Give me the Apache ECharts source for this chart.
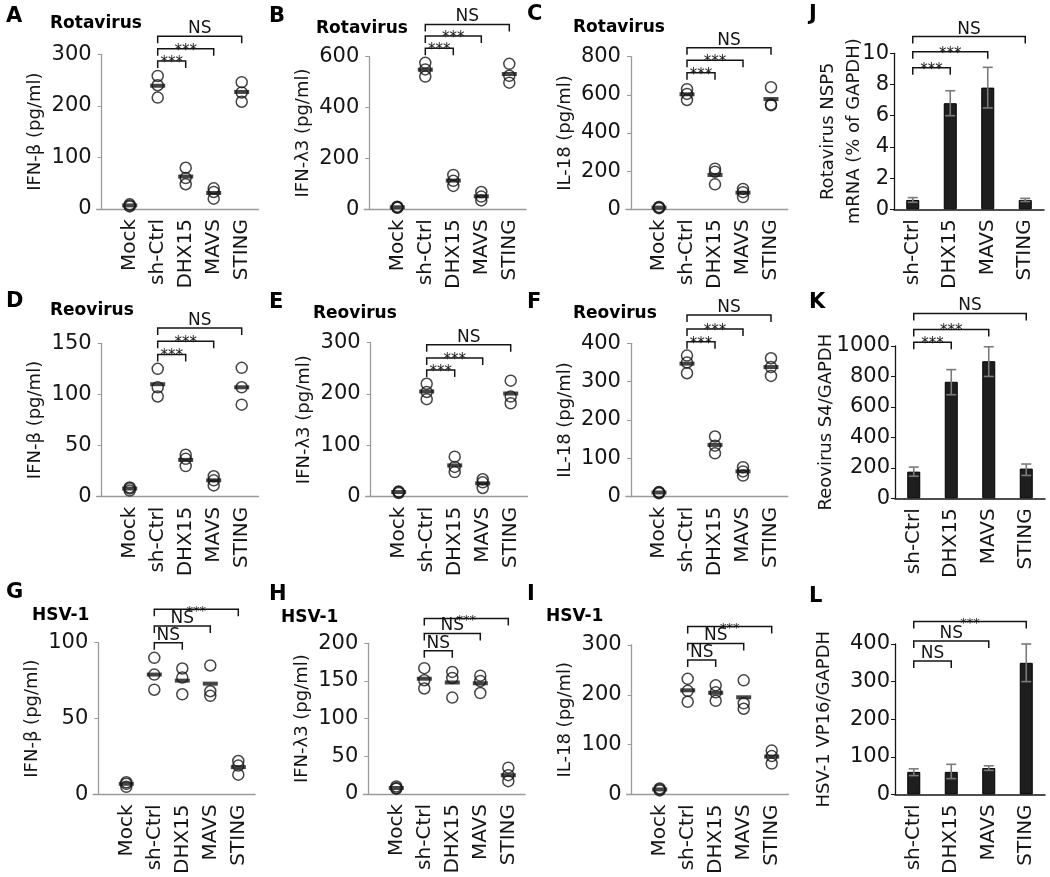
<!DOCTYPE html>
<html><head><meta charset="utf-8">
<script src="https://cdn.jsdelivr.net/npm/echarts@6/dist/echarts.min.js"></script>
<style>html,body{margin:0;padding:0;background:#fff}#chart{width:1050px;height:877px}</style>
</head><body><div id="chart"></div><script>
// ---------- categories ----------
const dotCategories = ['Mock', 'sh-Ctrl', 'DHX15', 'MAVS', 'STING'];
const barCategories = ['sh-Ctrl', 'DHX15', 'MAVS', 'STING'];
const sigLabelsVirusRNA = ['***', '***', 'NS'];
const sigLabelsHSV = ['NS', 'NS', '***'];

// ---------- A: Rotavirus IFN-β (pg/ml) ----------
const rotaIfnbPoints = [[5, 7, 9], [258, 240, 216], [80, 60, 48], [40, 33, 20], [246, 226, 208]];
const rotaIfnbMeans = [7, 239, 63, 31, 227];
const rotaIfnbSig = [287, 311, 335];
// ---------- B: Rotavirus IFN-λ3 ----------
const rotaIfnlPoints = [[6, 8, 10], [576, 550, 522], [135, 112, 92], [68, 50, 35], [572, 525, 498]];
const rotaIfnlMeans = [8, 549, 113, 51, 532];
const rotaIfnlSig = [633, 681, 727];
// ---------- C: Rotavirus IL-18 ----------
const rotaIl18Points = [[6, 9, 12], [630, 605, 573], [213, 197, 131], [107, 90, 64], [640, 550, 545]];
const rotaIl18Means = [9, 603, 180, 87, 578];
const rotaIl18Sig = [716, 782, 847];
// ---------- D: Reovirus IFN-β ----------
const reoIfnbPoints = [[6, 8, 9], [125, 107, 98], [41, 37, 30], [20, 16, 11], [126, 107, 90]];
const reoIfnbMeans = [8, 110, 36, 16, 107];
const reoIfnbSig = [139, 152, 165];
// ---------- E: Reovirus IFN-λ3 ----------
const reoIfnlPoints = [[7, 9, 10], [220, 204, 190], [78, 58, 48], [34, 28, 17], [226, 195, 182]];
const reoIfnlMeans = [9, 205, 61, 26, 201];
const reoIfnlSig = [247, 270, 296];
// ---------- F: Reovirus IL-18 ----------
const reoIl18Points = [[9, 11, 12], [368, 350, 322], [157, 133, 113], [77, 66, 55], [361, 338, 315]];
const reoIl18Means = [11, 347, 135, 66, 338];
const reoIl18Sig = [404, 437, 474];
// ---------- G: HSV-1 IFN-β ----------
const hsvIfnbPoints = [[8, 7, 5], [90, 79, 69], [83, 77, 66], [85, 68, 65], [22, 19, 13]];
const hsvIfnbMeans = [7, 79, 75, 73, 18];
const hsvIfnbSig = [100, 111, 122];
// ---------- H: HSV-1 IFN-λ3 ----------
const hsvIfnlPoints = [[7, 8, 10], [167, 151, 140], [162, 154, 128], [157, 150, 134], [35, 25, 17]];
const hsvIfnlMeans = [8, 153, 148, 147, 25];
const hsvIfnlSig = [190, 213, 233];
// ---------- I: HSV-1 IL-18 ----------
const hsvIl18Points = [[8, 10, 12], [232, 208, 186], [219, 205, 188], [229, 183, 172], [88, 77, 62]];
const hsvIl18Means = [10, 209, 204, 195, 76];
const hsvIl18Sig = [270, 303, 337];
// ---------- J: Rotavirus NSP5 mRNA ----------
const rotaNsp5Values = [0.6, 6.8, 7.8, 0.6];
const rotaNsp5Low = [0.45, 6.0, 6.5, 0.5];
const rotaNsp5High = [0.75, 7.6, 9.1, 0.7];
const rotaNsp5Sig = [9.08, 10.1, 11.07];
// ---------- K: Reovirus S4/GAPDH ----------
const reoS4Values = [175, 765, 900, 195];
const reoS4Low = [145, 680, 800, 150];
const reoS4High = [205, 845, 995, 225];
const reoS4Sig = [1024, 1109, 1214];
// ---------- L: HSV-1 VP16/GAPDH ----------
const hsvVp16Values = [60, 60, 70, 350];
const hsvVp16Low = [50, 42, 64, 300];
const hsvVp16High = [68, 80, 76, 400];
const hsvVp16Sig = [355, 408, 460];

// ---------- styling / layout ----------
const FONT = 'DejaVu Sans';
const INK = '#151515';
const AXIS_GRAY = '#9a9a9a';
const SPACING = 28, XMIN = -0.18, XMAX = 5.6;

const dotPanels = [
  {letter: 'A', title: 'Rotavirus', yName: 'IFN-β (pg/ml)', yMax: 300, yStep: 100, points: rotaIfnbPoints, means: rotaIfnbMeans, sig: rotaIfnbSig, sigLabels: sigLabelsVirusRNA, axisX: 101.7, top: 54.3, bottom: 209, letterPos: [6, 6], titlePos: [50, 15]},
  {letter: 'B', title: 'Rotavirus', yName: 'IFN-λ3 (pg/ml)', yMax: 600, yStep: 200, points: rotaIfnlPoints, means: rotaIfnlMeans, sig: rotaIfnlSig, sigLabels: sigLabelsVirusRNA, axisX: 369.3, top: 56.7, bottom: 209.3, letterPos: [269, 6], titlePos: [316, 20]},
  {letter: 'C', title: 'Rotavirus', yName: 'IL-18 (pg/ml)', yMax: 800, yStep: 200, points: rotaIl18Points, means: rotaIl18Means, sig: rotaIl18Sig, sigLabels: sigLabelsVirusRNA, axisX: 631, top: 56.7, bottom: 209.3, letterPos: [527, 4], titlePos: [573, 19]},
  {letter: 'D', title: 'Reovirus', yName: 'IFN-β (pg/ml)', yMax: 150, yStep: 50, points: reoIfnbPoints, means: reoIfnbMeans, sig: reoIfnbSig, sigLabels: sigLabelsVirusRNA, axisX: 101.7, top: 343.3, bottom: 496.7, letterPos: [6, 291], titlePos: [50, 302]},
  {letter: 'E', title: 'Reovirus', yName: 'IFN-λ3 (pg/ml)', yMax: 300, yStep: 100, points: reoIfnlPoints, means: reoIfnlMeans, sig: reoIfnlSig, sigLabels: sigLabelsVirusRNA, axisX: 370.7, top: 342.7, bottom: 496.7, letterPos: [269, 292], titlePos: [313, 305]},
  {letter: 'F', title: 'Reovirus', yName: 'IL-18 (pg/ml)', yMax: 400, yStep: 100, points: reoIl18Points, means: reoIl18Means, sig: reoIl18Sig, sigLabels: sigLabelsVirusRNA, axisX: 631, top: 343.3, bottom: 496.7, letterPos: [527, 292], titlePos: [573, 305]},
  {letter: 'G', title: 'HSV-1', yName: 'IFN-β (pg/ml)', yMax: 100, yStep: 50, points: hsvIfnbPoints, means: hsvIfnbMeans, sig: hsvIfnbSig, sigLabels: sigLabelsHSV, axisX: 98.3, top: 642.7, bottom: 797.3, letterPos: [6, 582], titlePos: [32, 607]},
  {letter: 'H', title: 'HSV-1', yName: 'IFN-λ3 (pg/ml)', yMax: 200, yStep: 50, points: hsvIfnlPoints, means: hsvIfnlMeans, sig: hsvIfnlSig, sigLabels: sigLabelsHSV, axisX: 368.3, top: 643.3, bottom: 794, letterPos: [269, 584], titlePos: [281, 609]},
  {letter: 'I', title: 'HSV-1', yName: 'IL-18 (pg/ml)', yMax: 300, yStep: 100, points: hsvIl18Points, means: hsvIl18Means, sig: hsvIl18Sig, sigLabels: sigLabelsHSV, axisX: 631.7, top: 645, bottom: 797.3, letterPos: [527, 584], titlePos: [546, 608]}
];
const barPanels = [
  {letter: 'J', yName: 'Rotavirus NSP5\nmRNA (% of GAPDH)', yMax: 10, yStep: 2, values: rotaNsp5Values, low: rotaNsp5Low, high: rotaNsp5High, sig: rotaNsp5Sig, sigLabels: sigLabelsVirusRNA, axisX: 894, top: 53.3, bottom: 209.3, letterPos: [809, 4], nameGap: 27},
  {letter: 'K', yName: 'Reovirus S4/GAPDH', yMax: 1000, yStep: 200, values: reoS4Values, low: reoS4Low, high: reoS4High, sig: reoS4Sig, sigLabels: sigLabelsVirusRNA, axisX: 895, top: 346, bottom: 498.3, letterPos: [809, 292], nameGap: 59},
  {letter: 'L', yName: 'HSV-1 VP16/GAPDH', yMax: 400, yStep: 100, values: hsvVp16Values, low: hsvVp16Low, high: hsvVp16High, sig: hsvVp16Sig, sigLabels: sigLabelsHSV, axisX: 895, top: 644, bottom: 800, letterPos: [809, 586], nameGap: 61}
];

const grids = [], xAxes = [], yAxes = [], series = [], titles = [];

function bracketSeries(gi, data, labels, starSize) {
  return {
    type: 'custom', xAxisIndex: gi, yAxisIndex: gi, clip: false, silent: true, z: 6,
    data: data, encode: {x: [0, 1], y: 2},
    renderItem: function (params, api) {
      const a = api.coord([api.value(0), api.value(2)]);
      const b = api.coord([api.value(1), api.value(2)]);
      const label = labels[api.value(3)];
      const stars = label === '***';
      const tick = 7;
      return {type: 'group', children: [
        {type: 'polyline', shape: {points: [[a[0], a[1] + tick], [a[0], a[1]], [b[0], b[1]], [b[0], b[1] + tick]]},
         style: {stroke: INK, lineWidth: 1.5, fill: null}},
        {type: 'text', x: (a[0] + b[0]) / 2, y: stars ? a[1] + 2 : a[1] + 1,
         style: {text: label, fontSize: stars ? starSize : 17, fontFamily: FONT, fill: INK, align: 'center', verticalAlign: stars ? 'middle' : 'bottom'}}
      ]};
    }
  };
}

function yAxisBase(gi, p, lineColor, nameGap) {
  return {
    type: 'value', gridIndex: gi, min: 0, max: p.yMax, interval: p.yStep,
    axisLine: {show: true, onZero: true, lineStyle: {color: lineColor, width: 1.3}},
    axisTick: {show: true, length: 4, lineStyle: {color: lineColor}},
    splitLine: {show: false},
    axisLabel: {fontSize: 21, fontFamily: FONT, color: INK, margin: 5, formatter: function (v) { return String(v); }},
    name: p.yName, nameLocation: 'middle', nameGap: nameGap, nameMoveOverlap: false,
    nameTextStyle: {fontSize: 18, fontFamily: FONT, color: INK, lineHeight: p.yName.indexOf('\n') >= 0 ? 26 : 20}
  };
}

function addLetter(p) {
  titles.push({text: p.letter, left: p.letterPos[0], top: p.letterPos[1], padding: 0,
    textStyle: {fontSize: 21, fontWeight: 'bold', fontFamily: FONT, color: '#000'}});
}

dotPanels.forEach(function (p) {
  const gi = grids.length;
  grids.push({left: p.axisX + XMIN * SPACING, top: p.top, width: (XMAX - XMIN) * SPACING, height: p.bottom - p.top});
  xAxes.push({
    type: 'value', gridIndex: gi, min: XMIN, max: XMAX,
    axisLine: {show: true, onZero: true, lineStyle: {color: AXIS_GRAY, width: 1.3}},
    axisTick: {show: false}, splitLine: {show: false},
    axisLabel: {customValues: [1, 2, 3, 4, 5], formatter: function (v) { return dotCategories[Math.round(v) - 1] || ''; },
      rotate: 90, fontSize: 20, fontFamily: FONT, color: INK, margin: 10}
  });
  yAxes.push(yAxisBase(gi, p, AXIS_GRAY, 51));
  series.push({type: 'scatter', xAxisIndex: gi, yAxisIndex: gi, silent: true, z: 2,
    data: p.points.flatMap(function (arr, i) { return arr.map(function (v) { return [i + 1, v]; }); }),
    symbol: 'circle', symbolSize: 11,
    itemStyle: {color: 'rgba(255,255,255,0)', borderColor: INK, borderWidth: 1.5}});
  series.push({type: 'scatter', xAxisIndex: gi, yAxisIndex: gi, silent: true, z: 3,
    data: p.means.map(function (m, i) { return [i + 1, m]; }),
    symbol: 'rect', symbolSize: [15, 4], itemStyle: {color: INK}});
  series.push(bracketSeries(gi, p.sig.map(function (lvl, k) { return [2, 3 + k, lvl, k]; }), p.sigLabels, gi >= 6 ? 13 : 15));
  addLetter(p);
  titles.push({text: p.title, left: p.titlePos[0], top: p.titlePos[1], padding: 0,
    textStyle: {fontSize: 17, fontWeight: 'bold', fontFamily: FONT, color: '#000'}});
});

barPanels.forEach(function (p, bi) {
  const gi = grids.length;
  grids.push({left: p.axisX, top: p.top, width: 150, height: p.bottom - p.top});
  xAxes.push({
    type: 'category', gridIndex: gi, data: barCategories,
    axisLine: {show: true, lineStyle: {color: INK, width: 1.5}},
    axisTick: {show: false},
    axisLabel: {interval: 0, rotate: 90, fontSize: 20, fontFamily: FONT, color: INK, margin: 10}
  });
  yAxes.push(yAxisBase(gi, p, INK, p.nameGap));
  series.push({type: 'bar', xAxisIndex: gi, yAxisIndex: gi, silent: true, z: 2,
    data: p.values, barWidth: 13,
    itemStyle: {color: '#1e1e1e', borderColor: '#000', borderWidth: 1}});
  series.push({type: 'custom', xAxisIndex: gi, yAxisIndex: gi, silent: true, z: 4, clip: false,
    data: p.values.map(function (v, i) { return [i, p.low[i], p.high[i]]; }),
    encode: {x: 0, y: [1, 2]},
    renderItem: function (params, api) {
      const top = api.coord([api.value(0), api.value(2)]);
      const bot = api.coord([api.value(0), api.value(1)]);
      const w = 5;
      const st = {stroke: '#7a7a7a', lineWidth: 1.6};
      return {type: 'group', children: [
        {type: 'line', shape: {x1: top[0], y1: top[1], x2: bot[0], y2: bot[1]}, style: st},
        {type: 'line', shape: {x1: top[0] - w, y1: top[1], x2: top[0] + w, y2: top[1]}, style: st},
        {type: 'line', shape: {x1: bot[0] - w, y1: bot[1], x2: bot[0] + w, y2: bot[1]}, style: st}
      ]};
    }});
  series.push(bracketSeries(gi, p.sig.map(function (lvl, k) { return [0, 1 + k, lvl, k]; }), p.sigLabels, bi === 2 ? 13 : 15));
  addLetter(p);
});

const chart = echarts.init(document.getElementById('chart'), null, {renderer: 'canvas'});
chart.setOption({
  backgroundColor: '#ffffff',
  animation: false,
  title: titles,
  grid: grids,
  xAxis: xAxes,
  yAxis: yAxes,
  series: series
});
</script></body></html>
